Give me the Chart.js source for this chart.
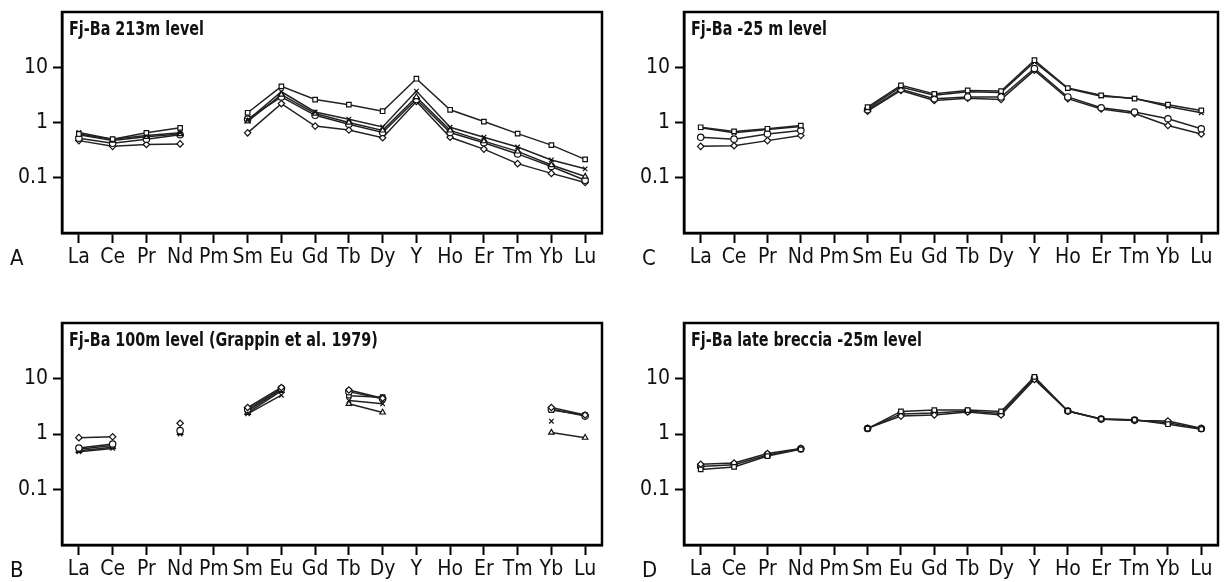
<!DOCTYPE html>
<html>
<head>
<meta charset="utf-8">
<script src="https://cdn.jsdelivr.net/npm/chart.js@4.4.1/dist/chart.umd.min.js"></script>
<style>
  html, body { margin: 0; padding: 0; background: #fff; }
  #wrap { position: relative; width: 1224px; height: 582px; }
  canvas { position: absolute; }
</style>
</head>
<body>
<div id="wrap">
  <canvas id="chartA" width="612" height="291" style="left:0;top:0"></canvas>
  <canvas id="chartC" width="612" height="291" style="left:612px;top:0"></canvas>
  <canvas id="chartB" width="612" height="291" style="left:0;top:291px"></canvas>
  <canvas id="chartD" width="612" height="291" style="left:612px;top:291px"></canvas>
</div>
<script>
// REE elements on the x axis
const elements = ['La', 'Ce', 'Pr', 'Nd', 'Pm', 'Sm', 'Eu', 'Gd', 'Tb', 'Dy', 'Y', 'Ho', 'Er', 'Tm', 'Yb', 'Lu'];
const yTicks = [0.1, 1, 10];

// A: Fj-Ba 213m level
const aSquare   = [0.62, 0.50, 0.65, 0.80, null, 1.50, 4.5, 2.6, 2.1, 1.60, 6.2, 1.70, 1.04, 0.63, 0.39, 0.215];
const aCross    = [0.66, 0.50, 0.58, 0.65, null, 1.10, 3.6, 1.55, 1.15, 0.83, 3.7, 0.82, 0.54, 0.36, 0.21, 0.145];
const aTriangle = [0.60, 0.47, 0.55, 0.62, null, 1.05, 3.2, 1.45, 1.00, 0.72, 2.9, 0.72, 0.46, 0.30, 0.17, 0.105];
const aCircle   = [0.52, 0.42, 0.50, 0.60, null, 1.15, 2.9, 1.35, 0.93, 0.66, 2.6, 0.66, 0.43, 0.27, 0.16, 0.09];
const aDiamond  = [0.47, 0.37, 0.40, 0.41, null, 0.65, 2.2, 0.86, 0.73, 0.53, 2.4, 0.54, 0.33, 0.18, 0.12, 0.082];

// C: Fj-Ba -25 m level
const cSquare  = [0.82, 0.69, 0.77, 0.88, null, 1.9, 4.7, 3.3, 3.8, 3.7, 13.4, 4.2, 3.1, 2.7, 2.1, 1.65];
const cCross   = [0.80, 0.65, 0.75, 0.85, null, 1.8, 4.4, 3.1, 3.6, 3.5, 12.5, 4.1, 3.0, 2.75, 1.95, 1.5];
const cCircle  = [0.54, 0.50, 0.62, 0.72, null, 1.7, 4.0, 2.7, 2.9, 2.9, 9.5, 2.9, 1.85, 1.55, 1.17, 0.77];
const cDiamond = [0.37, 0.38, 0.47, 0.58, null, 1.6, 3.8, 2.5, 2.75, 2.6, 8.8, 2.7, 1.75, 1.45, 0.88, 0.62];

// B: Fj-Ba 100m level (Grappin et al. 1979)
const bDiamond  = [0.86, 0.89, null, 1.56, null, 3.0, 6.9, null, 6.2, 4.4, null, null, null, null, 3.0, 2.2];
const bCircle   = [0.56, 0.66, null, 1.15, null, 2.8, 6.6, null, 5.8, 4.3, null, null, null, null, 2.8, 2.1];
const bSquare   = [0.53, 0.62, null, 1.10, null, 2.6, 6.3, null, 4.9, 4.6, null, null, null, null, 2.7, 2.2];
const bCross    = [0.48, 0.55, null, 1.00, null, 2.3, 5.0, null, 4.0, 3.5, null, null, null, null, 1.7, null];
const bTriangle = [0.50, 0.58, null, 1.05, null, 2.4, 6.0, null, 3.5, 2.45, null, null, null, null, 1.06, 0.86];

// D: Fj-Ba late breccia -25m level
const dSquare  = [0.23, 0.255, 0.40, 0.53, null, 1.25, 2.55, 2.7, 2.7, 2.55, 10.7, 2.6, 1.87, 1.80, 1.50, 1.22];
const dDiamond = [0.285, 0.30, 0.445, 0.55, null, 1.27, 2.1, 2.2, 2.5, 2.2, 9.6, 2.6, 1.85, 1.75, 1.72, 1.27];
const dCircle  = [0.26, 0.28, 0.42, 0.54, null, 1.26, 2.3, 2.4, 2.6, 2.35, 10.1, 2.6, 1.86, 1.78, 1.6, 1.25];

const FONT = '"Liberation Sans Narrow", "DejaVu Sans Condensed", Arial, sans-serif';

const framePlugin = {
    id: 'frame',
    afterDraw(chart, args, opts) {
        const {ctx, chartArea: a} = chart;
        ctx.save();
        ctx.strokeStyle = '#000';
        ctx.lineWidth = 2.5;
        ctx.strokeRect(a.left, a.top, a.right - a.left, a.bottom - a.top);
        ctx.fillStyle = '#111';
        ctx.textAlign = 'left';
        ctx.font = '22px ' + FONT;
        ctx.textBaseline = 'middle';
        ctx.fillText(opts.letter, opts.letterX, a.bottom + 26);
        // title is narrower in the original, squeeze it a little
        ctx.translate(a.left + 7, a.top + 9);
        ctx.scale(0.84, 1);
        ctx.textBaseline = 'top';
        ctx.font = 'bold 19px ' + FONT;
        ctx.fillText(opts.title, 0, 0);
        ctx.restore();
    }
};

function makeDataset(data, style) {
    return {
        data: data,
        pointStyle: style,
        pointRadius: 3.2,
        pointBorderWidth: 1.2,
        pointBackgroundColor: '#fff',
        pointBorderColor: '#111',
        borderColor: '#222',
        borderWidth: 1.5,
        spanGaps: false,
        tension: 0
    };
}

function makePanel(id, title, letter, series, box) {
    return new Chart(document.getElementById(id), {
        type: 'line',
        data: {
            labels: elements,
            datasets: series.map(s => makeDataset(s[0], s[1]))
        },
        options: {
            responsive: false,
            animation: false,
            layout: {padding: {top: box.top, right: 612 - box.right, bottom: 0, left: 0}},
            plugins: {
                legend: {display: false},
                tooltip: {enabled: false},
                frame: {title: title, letter: letter, letterX: box.letterX}
            },
            scales: {
                x: {
                    type: 'category',
                    offset: true,
                    afterFit: (scale) => {
                        scale.height = 291 - box.bottom;
                        scale.paddingLeft = 0;
                        scale.paddingRight = 0;
                    },
                    grid: {
                        offset: false,
                        drawOnChartArea: false,
                        drawTicks: true,
                        tickLength: 10,
                        tickWidth: 2,
                        tickColor: '#000'
                    },
                    border: {display: true, color: '#000', width: 2.5},
                    ticks: {
                        color: '#111',
                        font: {family: FONT, size: 21},
                        padding: 2,
                        maxRotation: 0,
                        autoSkip: false
                    }
                },
                y: {
                    type: 'logarithmic',
                    min: 0.01,
                    max: 100,
                    afterFit: (scale) => {
                        scale.width = box.left;
                        scale.paddingTop = 0;
                        scale.paddingBottom = 0;
                    },
                    afterBuildTicks: (scale) => { scale.ticks = yTicks.map(v => ({value: v})); },
                    grid: {
                        drawOnChartArea: false,
                        drawTicks: true,
                        tickLength: 9,
                        tickWidth: 2,
                        tickColor: '#000'
                    },
                    border: {display: true, color: '#000', width: 2.5},
                    ticks: {
                        color: '#111',
                        font: {family: FONT, size: 21},
                        padding: 5,
                        callback: (v) => String(v)
                    }
                }
            }
        },
        plugins: [framePlugin]
    });
}

makePanel('chartA', 'Fj-Ba 213m level', 'A', [
    [aSquare, 'rect'], [aCross, 'crossRot'], [aTriangle, 'triangle'], [aCircle, 'circle'], [aDiamond, 'rectRot']
], {left: 62, right: 602, top: 12, bottom: 233, letterX: 10});

makePanel('chartC', 'Fj-Ba -25 m level', 'C', [
    [cSquare, 'rect'], [cCross, 'crossRot'], [cCircle, 'circle'], [cDiamond, 'rectRot']
], {left: 72, right: 606, top: 12, bottom: 233, letterX: 30});

makePanel('chartB', 'Fj-Ba 100m level (Grappin et al. 1979)', 'B', [
    [bDiamond, 'rectRot'], [bCircle, 'circle'], [bSquare, 'rect'], [bCross, 'crossRot'], [bTriangle, 'triangle']
], {left: 62, right: 602, top: 32, bottom: 254, letterX: 10});

makePanel('chartD', 'Fj-Ba late breccia -25m level', 'D', [
    [dSquare, 'rect'], [dDiamond, 'rectRot'], [dCircle, 'circle']
], {left: 72, right: 606, top: 32, bottom: 254, letterX: 30});
</script>
</body>
</html>
